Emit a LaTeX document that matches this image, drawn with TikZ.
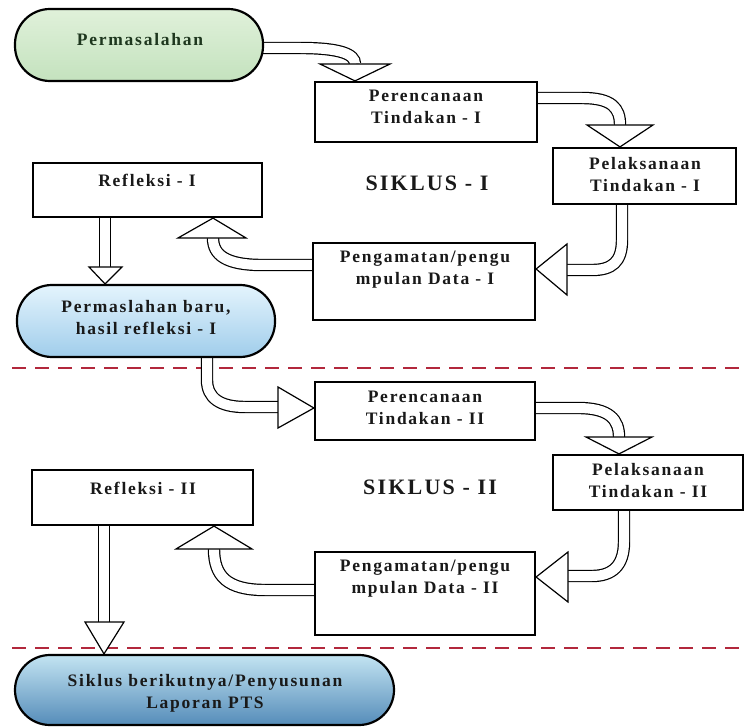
\documentclass[tikz,border=0pt]{standalone}
\usepackage{fontspec}
\setmainfont{Liberation Serif}[LetterSpace=10]
\usetikzlibrary{backgrounds}
\definecolor{dashred}{RGB}{178,40,60}
\definecolor{permtop}{RGB}{224,241,218}
\definecolor{permbot}{RGB}{196,226,190}
\definecolor{pbtop}{RGB}{228,244,253}
\definecolor{pbbot}{RGB}{160,205,235}
\definecolor{siktop}{RGB}{195,228,242}
\definecolor{sikbot}{RGB}{85,140,185}
\definecolor{permtxt}{RGB}{30,55,30}
\begin{document}
\begin{tikzpicture}[x=1pt,y=-1pt,
  box/.style={draw=black, line width=2.2pt, fill=white, rectangle, inner sep=0pt},
  pill/.style={draw=black, line width=2.2pt, rounded corners=35pt, rectangle, inner sep=0pt},
  txt/.style={font=\fontsize{17.5}{22}\selectfont\bfseries, align=center, text=black!90, inner sep=0pt},
  bigtxt/.style={font=\fontsize{22}{24}\selectfont\bfseries, text=black!90, inner sep=0pt},
  shaft/.style={draw=black, line width=1.2pt, double=white, double distance=10pt},
  head/.style={draw=black, line width=1.2pt, fill=white, line join=miter},
  sepline/.style={draw=dashred, line width=2.8pt, dash pattern=on 14pt off 9pt}]
\useasboundingbox (0,0) rectangle (747,727);

% shapes
\node[pill, top color=permtop, bottom color=permbot, minimum width=248pt, minimum height=72pt] (perm) at (139,45) {};
\node[box, minimum width=222pt, minimum height=60pt] (per1) at (426,112) {};
\node[box, minimum width=183pt, minimum height=56pt] (pel1) at (644.5,176) {};
\node[box, minimum width=229pt, minimum height=54pt] (ref1) at (147.5,190) {};
\node[box, minimum width=222pt, minimum height=77pt] (obs1) at (424,281.5) {};
\node[pill, top color=pbtop, bottom color=pbbot, minimum width=258pt, minimum height=72pt] (pb) at (146,321) {};
\node[box, minimum width=220pt, minimum height=58pt] (per2) at (425,411) {};
\node[box, minimum width=190pt, minimum height=55pt] (pel2) at (648,482.5) {};
\node[box, minimum width=221pt, minimum height=55pt] (ref2) at (142.5,497.5) {};
\node[box, minimum width=220pt, minimum height=83pt] (obs2) at (425,593.5) {};
\node[pill, top color=siktop, bottom color=sikbot, minimum width=379pt, minimum height=70pt] (sik) at (204.5,690) {};

% texts
\node[txt, text=permtxt] (tperm) at (140,40) {Permasalahan};
\node[txt] (tper1) at (426,107) {Perencanaan\\Tindakan - I};
\node[txt] (tpel1) at (645,175) {Pelaksanaan\\Tindakan - I};
\node[txt] (tref1) at (147,180) {Refleksi - I};
\node[txt] (tobs1) at (425,270) {Pengamatan/pengu\\mpulan Data - I};
\node[txt] (tpb) at (146,318) {Permaslahan baru,\\hasil refleksi - I};
\node[txt] (tper2) at (425,408) {Perencanaan\\Tindakan - II};
\node[txt] (tpel2) at (648,481) {Pelaksanaan\\Tindakan - II};
\node[txt] (tref2) at (143,488) {Refleksi - II};
\node[txt] (tobs2) at (425,579) {Pengamatan/pengu\\mpulan Data - II};
\node[txt] (tsik) at (205,693) {Siklus berikutnya/Penyusunan\\Laporan PTS};
\node[bigtxt] (s1) at (427,183) {SIKLUS - I};
\node[bigtxt] (s2) at (430,487) {SIKLUS - II};

\begin{pgfonlayer}{background}
  \draw[sepline] (12,368) -- (747,368);
  \draw[sepline] (12,648) -- (747,648);
  \draw[shaft] ([xshift=-6pt]perm.east |- 0,48) -- (300,48) .. controls (340,48) and (355,54) .. (355,64);
  \draw[shaft] (per1.east |- 0,98) -- (582,98) .. controls (612,98) and (620,108) .. (620,125);
  \draw[shaft] (622,0 |- pel1.south) -- (622,240) .. controls (622,262) and (612,270) .. (592,270) -- (567,270);
  \draw[shaft] (obs1.west |- 0,265) -- (262,265) .. controls (226,265) and (213,255) .. (213,238);
  \draw[shaft] (105,0 |- ref1.south) -- (105,268);
  \draw[shaft] (207,0 |- pb.south) -- (207,380) .. controls (207,398) and (220,407) .. (245,407) -- (278,407);
  \draw[shaft] (per2.east |- 0,408) -- (578,408) .. controls (610,408) and (619,420) .. (619,437);
  \draw[shaft] (624,0 |- pel2.south) -- (624,542) .. controls (624,566) and (612,576) .. (592,576) -- (568,576);
  \draw[shaft] (obs2.west |- 0,590) -- (265,590) .. controls (227,590) and (214,576) .. (214,549);
  \draw[shaft] (104,0 |- ref2.south) -- (104,623);
\end{pgfonlayer}

% arrow heads
\draw[head] (320,64) -- (390,64) -- (355,0 |- per1.north) -- cycle;
\draw[head] (587,125) -- (653,125) -- (620,0 |- pel1.north) -- cycle;
\draw[head] (567,244) -- (567,295) -- (obs1.east |- 0,269) -- cycle;
\draw[head] (178,238) -- (246,238) -- (213,0 |- ref1.south) -- cycle;
\draw[head] (89,267) -- (122,267) -- (105,0 |- pb.north) -- cycle;
\draw[head] (278,387) -- (278,428) -- (per2.west |- 0,408) -- cycle;
\draw[head] (586,437) -- (652,437) -- (619,0 |- pel2.north) -- cycle;
\draw[head] (568,552) -- (568,602) -- (obs2.east |- 0,577) -- cycle;
\draw[head] (176,549) -- (252,549) -- (214,0 |- ref2.south) -- cycle;
\draw[head] (85,622) -- (124,622) -- (104,0 |- sik.north) -- cycle;
\end{tikzpicture}
\end{document}
